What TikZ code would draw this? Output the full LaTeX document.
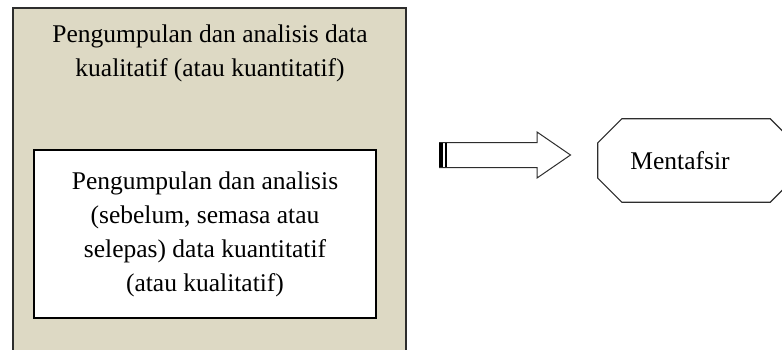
\documentclass[tikz,border=0pt]{standalone}
\usepackage{fontspec}
\setmainfont{Liberation Serif}
\usepackage{tikz}
\usetikzlibrary{calc,positioning,shapes,shapes.arrows}
\definecolor{khaki}{RGB}{221,217,196}
\definecolor{edge}{RGB}{45,45,45}

\begin{document}
\begin{tikzpicture}[x=1pt, y=-1pt, font=\fontsize{25.5}{34}\selectfont]
\tikzstyle{outerbox}=[rectangle, draw=edge, fill=khaki, line width=1.3pt,
                        minimum width=393pt, minimum height=344pt, inner sep=0pt]
\tikzstyle{innerbox}=[rectangle, draw=black, fill=white, line width=1.3pt,
                        minimum width=342pt, minimum height=168pt, align=center, inner sep=0pt]
\tikzstyle{blockarrow}=[single arrow, draw=edge, fill=white, line width=1pt,
                        minimum width=45pt, minimum height=131pt, inner xsep=0pt, inner ysep=12pt,
                        single arrow head extend=10.5pt, single arrow tip angle=69]
\tikzstyle{octbox}=[rectangle, minimum width=196pt, minimum height=83pt, inner sep=0pt]
\useasboundingbox (0,0) rectangle (782,349);
\clip (0,0) rectangle (782,349);
% left block
\node[outerbox] (collect) at (209.5,180) {};
\node[align=center] (collecttitle) at (210,53) {Pengumpulan dan analisis data\\kualitatif (atau kuantitatif)};
\node[innerbox] (analyse) at (205,234) {Pengumpulan dan analisis\\(sebelum, semasa atau\\selepas) data kuantitatif\\(atau kualitatif)};
% arrow
\node[blockarrow, anchor=tail] (arr) at (439,155) {};
\fill[black] ([yshift=12pt]arr.tail) rectangle ([xshift=4pt,yshift=-12pt]arr.tail);
\draw[black, line width=1.2pt] ([xshift=7pt,yshift=12pt]arr.tail) -- ([xshift=7pt,yshift=-12pt]arr.tail);
% right block
\node[octbox] (interp) at (696,160.5) {};
\draw[edge, line width=1.2pt] ([xshift=24pt]interp.north west) -- ([xshift=-24pt]interp.north east)
  -- ([yshift=-24pt]interp.north east) -- ([yshift=24pt]interp.south east)
  -- ([xshift=-24pt]interp.south east) -- ([xshift=24pt]interp.south west)
  -- ([yshift=24pt]interp.south west) -- ([yshift=-24pt]interp.north west) -- cycle;
\node (interplbl) at ([xshift=-16pt]interp.center) {Mentafsir};
\end{tikzpicture}
\end{document}
